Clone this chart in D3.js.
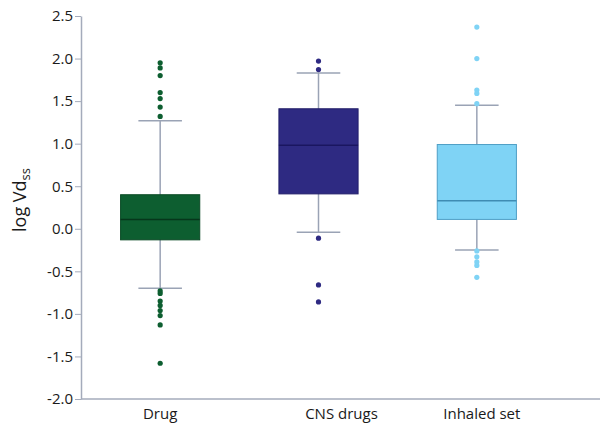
<!DOCTYPE html>
<html><head><meta charset="utf-8">
<script src="https://cdn.jsdelivr.net/npm/d3@7"></script>
<style>body{margin:0;background:#fff}svg{display:block}text{font-family:"Open Sans",sans-serif}</style>
</head><body><svg id="c" width="600" height="429"></svg>
<script>
const categories = ["Drug", "CNS drugs", "Inhaled set"];
const q1 = [-0.13, 0.41, 0.11];
const median = [0.11, 0.98, 0.33];
const q3 = [0.40, 1.41, 0.99];
const whiskerLow = [-0.70, -0.04, -0.25];
const whiskerHigh = [1.27, 1.83, 1.45];
const outliers = [
  [1.95, 1.89, 1.80, 1.60, 1.53, 1.43, 1.32, -0.73, -0.76, -0.85, -0.90, -0.96, -1.02, -1.13, -1.58],
  [1.97, 1.87, -0.11, -0.66, -0.86],
  [2.37, 2.00, 1.63, 1.59, 1.47, -0.26, -0.33, -0.39, -0.43, -0.57]
];
const yTicks = [-2.0, -1.5, -1.0, -0.5, 0.0, 0.5, 1.0, 1.5, 2.0, 2.5];

const fills = ["#0d5e30", "#2e2a82", "#7fd3f5"];
const strokes = ["#0a4a25", "#231f6a", "#4f9fc6"];
const medianCol = ["#06361b", "#1a1660", "#3f8cb3"];
const labelNudge = [0, 23, 5];

const svg = d3.select("#c");
const y = d3.scaleLinear().domain([-2, 2.5]).range([399, 16]);
const x = d3.scaleBand().domain(categories).range([81, 556]).paddingInner(0.5).paddingOuter(0.25);
const axisCol = "#a4abbb";

// y axis
const ya = svg.append("g").attr("transform", "translate(81,0)")
  .call(d3.axisLeft(y).tickValues(yTicks).tickFormat(d3.format(".1f")).tickSize(6).tickSizeOuter(0));
ya.select(".domain").attr("stroke", axisCol).attr("stroke-width", 1.5);
ya.selectAll(".tick line").attr("stroke", axisCol);
ya.selectAll(".tick text").attr("fill", "#1a1a1a").attr("font-size", 15).attr("x", -8)
  .text(d => d < 0 ? "-" + d3.format(".1f")(-d) : d3.format(".1f")(d));

// x axis line
svg.append("line").attr("x1", 81).attr("x2", 600).attr("y1", y(-2)).attr("y2", y(-2))
  .attr("stroke", axisCol).attr("stroke-width", 1.5);

// x labels
svg.selectAll(".xl").data(categories).enter().append("text")
  .attr("x", (d, i) => x(d) + x.bandwidth() / 2 + labelNudge[i])
  .attr("y", 419).attr("text-anchor", "middle").attr("font-size", 15).attr("fill", "#1a1a1a").text(d => d);

// y label
const yl = svg.append("text").attr("transform", "translate(26,200) rotate(-90)")
  .attr("text-anchor", "middle").attr("font-size", 18).attr("fill", "#1a1a1a");
yl.append("tspan").text("log Vd");
yl.append("tspan").attr("font-size", 13).attr("dy", 4).text("ss");

const bw = x.bandwidth();
const capW = bw * 0.55;
const whiskCol = "#9aa3b5";

categories.forEach((c, i) => {
  const cx = x(c) + bw / 2;
  const g = svg.append("g");
  g.append("line").attr("x1", cx).attr("x2", cx).attr("y1", y(whiskerHigh[i])).attr("y2", y(whiskerLow[i]))
    .attr("stroke", whiskCol).attr("stroke-width", 1.5);
  [whiskerHigh[i], whiskerLow[i]].forEach(v => {
    g.append("line").attr("x1", cx - capW / 2).attr("x2", cx + capW / 2).attr("y1", y(v)).attr("y2", y(v))
      .attr("stroke", whiskCol).attr("stroke-width", 1.5);
  });
  g.append("rect").attr("x", x(c)).attr("width", bw).attr("y", y(q3[i])).attr("height", y(q1[i]) - y(q3[i]))
    .attr("fill", fills[i]).attr("stroke", strokes[i]).attr("stroke-width", 1);
  g.append("line").attr("x1", x(c)).attr("x2", x(c) + bw).attr("y1", y(median[i])).attr("y2", y(median[i]))
    .attr("stroke", medianCol[i]).attr("stroke-width", 1.5);
  g.selectAll("circle").data(outliers[i]).enter().append("circle")
    .attr("cx", cx).attr("cy", d => y(d)).attr("r", 2.6).attr("fill", fills[i]);
});
</script></body></html>
